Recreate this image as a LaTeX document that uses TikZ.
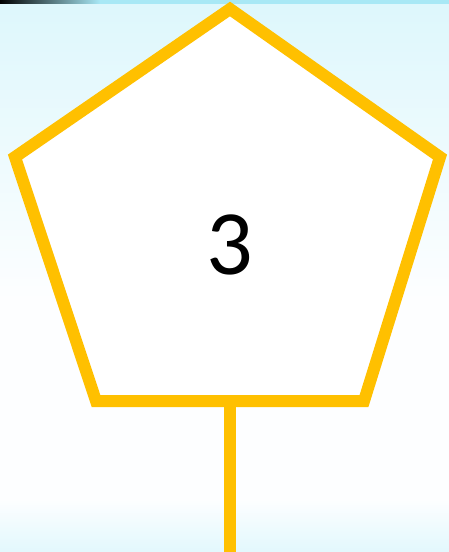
\documentclass[tikz,border=0pt]{standalone}
\usepackage{fontspec}
\setmainfont{Carlito}
\definecolor{penyellow}{HTML}{FFC000}
\definecolor{skytop}{HTML}{DDF7FC}
\definecolor{skymid}{HTML}{F4FCFE}
\definecolor{skybot}{HTML}{FDFEFF}
\definecolor{skyband}{HTML}{E2F8FD}
\definecolor{skyline}{HTML}{A8E8F5}
\begin{document}
\begin{tikzpicture}[x=1pt,y=-1pt,
  outline/.style={draw=penyellow,line width=12pt,line join=miter},
  numtext/.style={font=\fontsize{92}{92}\selectfont,text=black,inner sep=0pt}]
\useasboundingbox (0,0) rectangle (449,552);
% background
\fill[top color=skytop,bottom color=skybot,shading angle=0] (0,0) rectangle (449,300);
\fill[skybot] (0,300) rectangle (449,552);
\fill[top color=skybot,bottom color=skyband] (0,500) rectangle (449,552);
\fill[skyline] (0,0) rectangle (449,4);
\fill[left color=black,right color=skyline] (0,0) rectangle (100,3);
% pentagon
\coordinate (top) at (230,9);
\coordinate (rt) at (440,157);
\coordinate (br) at (364,401);
\coordinate (bl) at (96,401);
\coordinate (lt) at (15,157);
\coordinate (stickbot) at (230,552);
\coordinate (stickTop) at (230,401);
\draw[outline,fill=white] (top) -- (rt) -- (br) -- (bl) -- (lt) -- cycle;
\draw[draw=penyellow,line width=12pt] (stickTop) -- (stickbot);
\node[numtext] (num) at (230,245) {3};
\end{tikzpicture}
\end{document}
